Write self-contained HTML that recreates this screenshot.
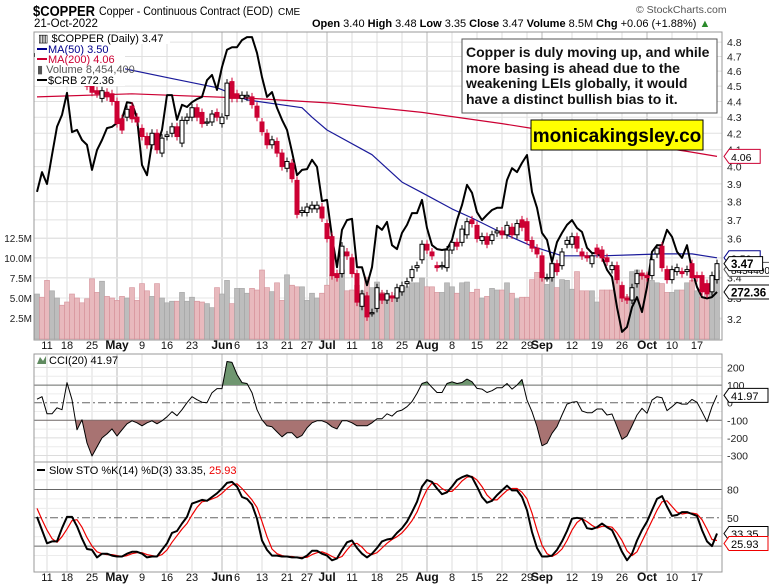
<!DOCTYPE html>
<html><head><meta charset="utf-8"><style>
body{margin:0;background:#fff;}
svg{display:block;font-family:"Liberation Sans",sans-serif;}
</style></head><body>
<svg id="chart" width="769" height="588" viewBox="0 0 769 588" xmlns="http://www.w3.org/2000/svg">
<rect x="0" y="0" width="769" height="588" fill="#fff"/>
<g id="grid"></g>
<g id="vol"></g>
<g id="lines"></g>
<g id="candles"></g>
<g id="ind"></g>
<g id="axes"></g>
<g>
<text x="33" y="16" font-size="14.5" font-weight="bold" textLength="62" lengthAdjust="spacingAndGlyphs">$COPPER</text>
<text x="99" y="15" font-size="11.5" textLength="174" lengthAdjust="spacingAndGlyphs">Copper - Continuous Contract (EOD)</text>
<text x="278" y="15" font-size="10">CME</text>
<text x="34" y="27" font-size="11.5">21-Oct-2022</text>
<text x="636" y="13" font-size="10.5" fill="#555">© StockCharts.com</text>
<text x="312" y="27" font-size="11"><tspan font-weight="bold">Open</tspan> 3.40  <tspan font-weight="bold">High</tspan> 3.48  <tspan font-weight="bold">Low</tspan> 3.35  <tspan font-weight="bold">Close</tspan> 3.47  <tspan font-weight="bold">Volume</tspan> 8.5M  <tspan font-weight="bold">Chg</tspan> +0.06 (+1.88%) <tspan fill="#2a8a2a">▲</tspan></text>
</g>
<g>
<rect x="462" y="39" width="255" height="74" fill="#fff" stroke="#555" stroke-width="1"/>
<text font-size="14" font-weight="bold" fill="#111">
<tspan x="466" y="57">Copper is duly moving up, and while</tspan>
<tspan x="466" y="73">more basing is ahead due to the</tspan>
<tspan x="466" y="88">weakening LEIs globally, it would</tspan>
<tspan x="466" y="104">have a distinct bullish bias to it.</tspan>
</text>
</g>
<g>
<rect x="531" y="120" width="172" height="30" fill="#ffff00" stroke="#000" stroke-width="1"/>
<text x="617" y="142" font-size="19" font-weight="bold" text-anchor="middle">monicakingsley.co</text>
</g>
<g>
<path d="M37,364 L40,357 L43,361 L46,356 L46,364 Z" fill="#5f8a5f"/>
<text x="49" y="364" font-size="11">CCI(20) 41.97</text>
</g>
<g>
<line x1="37" y1="470" x2="45" y2="470" stroke="#000" stroke-width="2"/>
<text x="49" y="474" font-size="11">Slow STO %K(14) %D(3) 33.35, <tspan fill="#e00">25.93</tspan></text>
</g>
</svg>
<script>
const opens=[4.70,4.72,4.68,4.66,4.70,4.74,4.70,4.66,4.62,4.58,4.55,4.50,4.47,4.42,4.46,4.45,4.40,4.29,4.30,4.37,4.30,4.23,4.18,4.13,4.20,4.08,4.18,4.20,4.24,4.14,4.28,4.30,4.36,4.33,4.27,4.27,4.33,4.26,4.31,4.53,4.45,4.42,4.43,4.43,4.37,4.27,4.20,4.13,4.15,4.08,3.99,4.02,3.92,3.74,3.74,3.76,3.76,3.77,3.68,3.61,3.42,3.42,3.53,3.50,3.42,3.26,3.31,3.23,3.25,3.32,3.29,3.31,3.30,3.33,3.37,3.40,3.45,3.49,3.57,3.53,3.46,3.46,3.45,3.54,3.58,3.58,3.62,3.70,3.67,3.59,3.61,3.59,3.63,3.64,3.62,3.66,3.62,3.70,3.69,3.59,3.55,3.51,3.40,3.40,3.47,3.46,3.57,3.57,3.61,3.53,3.51,3.47,3.55,3.54,3.50,3.44,3.46,3.36,3.30,3.29,3.37,3.42,3.41,3.41,3.52,3.56,3.44,3.39,3.43,3.43,3.43,3.47,3.41,3.41,3.37,3.33,3.39];
const closes=[4.72,4.68,4.66,4.70,4.74,4.72,4.66,4.62,4.60,4.55,4.50,4.46,4.45,4.47,4.43,4.40,4.26,4.22,4.35,4.29,4.27,4.18,4.13,4.20,4.10,4.17,4.19,4.24,4.18,4.28,4.30,4.36,4.30,4.26,4.27,4.32,4.30,4.30,4.52,4.42,4.42,4.44,4.44,4.38,4.30,4.21,4.13,4.16,4.08,4.00,4.03,3.93,3.73,3.75,3.77,3.78,3.78,3.71,3.60,3.41,3.40,3.56,3.51,3.42,3.28,3.32,3.21,3.23,3.35,3.29,3.32,3.30,3.35,3.36,3.38,3.44,3.46,3.57,3.54,3.51,3.45,3.46,3.54,3.58,3.56,3.65,3.69,3.68,3.60,3.61,3.57,3.62,3.64,3.62,3.67,3.62,3.68,3.66,3.59,3.55,3.52,3.40,3.40,3.47,3.43,3.53,3.59,3.61,3.55,3.51,3.50,3.51,3.52,3.50,3.48,3.46,3.39,3.30,3.29,3.35,3.42,3.41,3.40,3.49,3.55,3.45,3.39,3.44,3.45,3.42,3.44,3.40,3.40,3.33,3.32,3.41,3.47];
const volumes=[5.5,5.1,7.2,5.9,5.0,4.1,4.5,5.5,5.0,4.4,4.9,7.4,5.7,7.1,5.2,5.0,4.7,5.2,5.0,6.3,4.7,6.8,5.9,5.2,6.8,5.0,4.4,4.6,4.6,5.7,4.6,5.1,4.6,4.5,4.3,3.8,6.3,5.5,7.2,4.3,6.2,6.2,5.6,6.2,6.0,8.5,6.3,5.8,6.9,4.7,7.9,6.6,6.4,6.4,4.7,5.6,5.0,5.6,6.6,7.9,7.7,8.5,5.9,6.0,6.6,5.9,7.6,6.3,7.0,5.7,5.6,5.2,5.6,5.7,6.4,6.9,6.9,7.5,6.4,6.4,5.7,5.7,6.9,6.4,5.6,6.9,7.0,5.7,6.1,5.0,5.2,6.2,6.0,6.0,6.9,5.6,4.9,5.1,5.1,7.3,8.2,8.2,6.7,9.4,6.3,7.3,7.2,6.1,8.3,5.9,5.9,5.9,4.5,6.0,6.0,6.0,8.5,6.6,5.2,8.3,8.5,8.2,8.0,7.2,6.9,6.8,5.7,5.7,6.0,6.0,6.9,7.2,5.9,5.1,5.5,6.9,8.45];
const crb=[295.1,299.6,296.9,303.5,309.9,312.6,317.6,308.7,309.2,306.9,305.8,300.1,304.6,306.9,309.6,309.9,310.8,311.7,315.5,315.3,311.9,301.2,298.9,306.2,305.8,309.2,317.1,317.1,311.5,314.9,314.4,315.5,316.2,316.7,320.5,321.7,318.3,323.5,327.4,328.0,328.0,329.6,330.3,330.3,326.7,321.2,316.7,317.8,314.2,311.5,309.2,304.2,298.9,300.1,300.3,302.4,300.8,293.0,293.3,284.9,278.0,286.5,288.7,289.0,278.0,278.0,273.9,278.0,287.4,286.5,288.3,283.0,282.1,285.8,287.6,290.3,290.3,293.3,286.9,283.0,282.1,281.9,282.1,284.2,288.7,292.1,296.7,294.9,290.5,288.7,289.9,291.0,291.5,291.5,297.8,300.5,299.6,301.7,303.5,295.1,291.5,285.8,284.2,279.2,283.7,285.8,287.6,288.7,286.9,286.0,282.4,281.2,281.2,280.3,277.4,275.8,268.9,263.3,264.4,268.9,271.2,267.8,273.5,281.5,283.0,283.0,286.5,284.9,281.5,280.1,283.0,277.4,273.5,271.2,270.9,271.2,272.36];
const ma50Day=[17,27,36,42,53,55,58,67,73,77,83,87,93,99,105,113,125,131,136];
const ma50Val=[4.62,4.55,4.49,4.41,4.36,4.30,4.22,4.07,3.91,3.85,3.76,3.71,3.63,3.56,3.51,3.51,3.52,3.52,3.50];
const ma200Day=[0,19,43,59,77,93,99,130,136];
const ma200Val=[4.43,4.45,4.42,4.39,4.33,4.26,4.23,4.09,4.06];
const cci=[20,34,-63,-63,-29,-40,114,17,-154,-97,-229,-303,-251,-200,-177,-149,-189,-154,-120,-103,-114,-131,-114,-103,-120,-103,-80,-51,-74,-40,0,34,17,3,0,57,80,80,234,229,160,114,109,57,-40,-97,-131,-137,-166,-194,-171,-171,-200,-186,-143,-114,-103,-103,-114,-137,-149,-103,-103,-114,-131,-131,-131,-114,-91,-91,-63,-76,-50,-42,-23,6,53,109,119,87,58,58,109,119,109,115,134,119,81,77,58,68,85,85,109,77,100,132,15,-51,-136,-245,-230,-174,-136,-70,-8,2,6,-47,-57,-57,-36,-36,-70,-64,-136,-208,-189,-132,-70,-32,-60,15,34,28,-45,-23,2,-8,-8,19,2,-51,-108,-23,41.97];
const stoK=[51,37,23,25,25,39,51,51,41,28,17,16,8,12,12,10,9,9,12,14,14,12,8,9,9,16,23,34,36,44,51,65,67,69,68,72,76,81,87,88,83,72,70,64,49,26,16,10,10,9,9,8,8,7,10,15,15,12,10,5,7,16,24,26,18,12,8,12,18,25,27,28,34,39,46,56,67,83,90,88,81,75,77,83,90,93,95,93,83,72,66,68,74,79,84,79,79,72,58,35,18,9,9,10,16,25,36,49,50,49,39,38,40,44,40,37,26,14,5,12,26,37,46,58,70,73,62,52,53,56,56,54,52,37,25,20,33.35];
const stoD=[60,48,37,28,24,30,38,47,48,40,29,20,14,12,11,11,10,9,10,12,13,13,11,10,9,11,16,24,31,38,44,53,61,67,68,70,72,76,81,85,86,81,75,69,61,46,30,17,12,10,9,9,8,8,8,11,13,14,12,9,7,9,16,22,23,19,13,11,13,18,23,27,30,34,40,47,56,69,80,87,86,81,78,78,83,89,93,94,90,83,74,69,69,74,79,81,81,77,70,55,37,21,12,9,12,17,26,37,45,49,46,42,39,41,41,40,34,26,15,10,14,25,36,47,58,67,68,62,56,54,55,55,54,48,38,27,25.93];
const dateLabels=["11","18","25","May","9","16","23","Jun","6","13","21","27","Jul","11","18","25","Aug","8","15","22","29","Sep","12","19","26","Oct","10","17"];
const dateDays=[2,6,11,16,21,26,31,37,40,45,50,54,58,63,68,73,78,83,88,93,98,101,107,112,117,122,127,132];
const monthLabels=["May","Jun","Jul","Aug","Sep","Oct"];
const priceTicks=[3.2,3.3,3.4,3.5,3.6,3.7,3.8,3.9,4.0,4.1,4.2,4.3,4.4,4.5,4.6,4.7,4.8];
const volTicks=[2.5,5.0,7.5,10.0,12.5];
const cciTicks=[200,100,0,-100,-200,-300];
const stoTicks=[80,50,20];

const NS="http://www.w3.org/2000/svg";
const L=34,R=722;
const xAt=i=>37+5*i;
const py=p=>319-683*Math.log(p/3.2);
const vy=v=>338-v*8;
const cy=v=>292-(v-272.36)*4.4;
const ccy=v=>402.7-v*0.176;
const sy=v=>565-v*0.944;
function mk(tag,attrs,parent){const e=document.createElementNS(NS,tag);for(const k in attrs)e.setAttribute(k,attrs[k]);parent.appendChild(e);return e;}
const grid=document.getElementById('grid'),axes=document.getElementById('axes');
const panels=[[32,340],[354,462],[462,572]];
dateDays.forEach((d,k)=>{const x=xAt(d);const isM=monthLabels.includes(dateLabels[k]);
panels.forEach(p=>{const ln=mk('line',{x1:x,x2:x,y1:p[0],y2:p[1],stroke:isM?'#b8b8b8':'#dedede','stroke-width':1},grid);

});
[349,581].forEach(yy=>{const t=mk('text',{x:x,y:yy,'font-size':isM?12:11,'font-weight':isM?'bold':'normal','text-anchor':'middle',fill:'#111'},axes);t.textContent=dateLabels[k];

});});
priceTicks.forEach(p=>{const y=py(p);const ln=mk('line',{x1:L,x2:R,y1:y,y2:y,stroke:'#e0e0e0'},grid);


const t=mk('text',{x:727,y:y+4,'font-size':10.5,fill:'#222'},axes);t.textContent=p.toFixed(1);

});
volTicks.forEach(v=>{const y=vy(v);const ln=mk('line',{x1:L,x2:R,y1:y,y2:y,stroke:'#e6e6e6'},grid);


const t=mk('text',{x:32,y:y+4,'font-size':10,'text-anchor':'end',fill:'#222'},axes);t.textContent=v.toFixed(1)+'M';

});
[-250,-150,-50,50,150].forEach(v=>mk('line',{x1:L,x2:R,y1:ccy(v),y2:ccy(v),stroke:'#ececec'},grid));
cciTicks.forEach(v=>{const y=ccy(v);const major=Math.abs(v)===100;const ln=mk('line',{x1:L,x2:R,y1:y,y2:y,stroke:major||v===0?'#666':'#dcdcdc','stroke-dasharray':v===0?'8,3,2,3':'none'},grid);


const t=mk('text',{x:727,y:y+4,'font-size':10.5,fill:'#222'},axes);t.textContent=v;

});
[10,30,40,60,70,90].forEach(v=>mk('line',{x1:L,x2:R,y1:sy(v),y2:sy(v),stroke:'#ececec'},grid));
stoTicks.forEach(v=>{const y=sy(v);const ln=mk('line',{x1:L,x2:R,y1:y,y2:y,stroke:'#666','stroke-dasharray':v===50?'8,3,2,3':'none'},grid);


const t=mk('text',{x:727,y:y+4,'font-size':10.5,fill:'#222'},axes);t.textContent=v;

});
panels.forEach(p=>{const r=mk('rect',{x:L,y:p[0],width:R-L,height:p[1]-p[0],fill:'none',stroke:'#999'},axes);

});
const vol=document.getElementById('vol');
volumes.forEach((v,i)=>{const down=i>0&&closes[i]<closes[i-1];const y=vy(v);
const b=mk('rect',{x:xAt(i)-2.5,y:y,width:5,height:339-y,fill:down?'#e8b9bd':'#bdbdbd',stroke:down?'#d49098':'#a3a3a3','stroke-width':0.6},vol);

});
const lines=document.getElementById('lines');
function poly(pts,color,w,name,parent){const p=mk('polyline',{points:pts.map(q=>q[0].toFixed(1)+','+q[1].toFixed(1)).join(' '),fill:'none',stroke:color,'stroke-width':w,'stroke-linejoin':'round'},parent||lines);

return p;}
poly(ma200Day.map((d,k)=>[xAt(d),py(ma200Val[k])]),'#cc0033',1.2,'ma200-line');
poly(ma50Day.map((d,k)=>[xAt(d),py(ma50Val[k])]),'#1a1a9a',1.2,'ma50-line');
poly(crb.map((v,i)=>[xAt(i),cy(v)]),'#000',2,'crb-line');
const cg=document.getElementById('candles');
opens.forEach((o,i)=>{const c=closes[i];const x=xAt(i);const top=py(Math.max(o,c)),bot=py(Math.min(o,c));const up=c>=o;
const w=mk('line',{x1:x,x2:x,y1:top-4,y2:bot+4,stroke:up?'#000':'#cc0033','stroke-width':1},cg);


const b=mk('rect',{x:x-2,y:top,width:4,height:Math.max(1.2,bot-top),fill:up?'#fff':'#cc0033',stroke:up?'#000':'#cc0033','stroke-width':1},cg);

});
const ind=document.getElementById('ind');
const cciPts=cci.map((v,i)=>[xAt(i),ccy(v)]);
const defs=mk('defs',{},ind);
const c1=mk('clipPath',{id:'cAbove'},defs);mk('rect',{x:L,y:354,width:R-L,height:ccy(100)-354},c1);
const c2=mk('clipPath',{id:'cBelow'},defs);mk('rect',{x:L,y:ccy(-100),width:R-L,height:462-ccy(-100)},c2);
function area(base,clip,color,name){const pts=[[xAt(0),ccy(base)]].concat(cciPts).concat([[xAt(cci.length-1),ccy(base)]]);
const p=mk('polygon',{points:pts.map(q=>q[0].toFixed(1)+','+q[1].toFixed(1)).join(' '),fill:color,'clip-path':'url(#'+clip+')'},ind);

}
area(100,'cAbove','#6f9670','cci-overbought-fill');
area(-100,'cBelow','#a87372','cci-oversold-fill');
poly(cciPts,'#000',1,'cci-line',ind);
poly(stoD.map((v,i)=>[xAt(i),sy(v)]),'#ee0000',1.2,'sto-d-line',ind);
poly(stoK.map((v,i)=>[xAt(i),sy(v)]),'#000',2,'sto-k-line',ind);
const svg=document.getElementById('chart');
const lg=mk('g',{'font-size':11},svg);


mk('rect',{x:35,y:33,width:90,height:53,fill:'#fff'},lg);
mk('rect',{x:125,y:33,width:45,height:11,fill:'#fff'},lg);
function lt(x,y,txt,fill,name){const t=mk('text',{x:x,y:y,fill:fill},lg);t.textContent=txt;

}
lt(38,42,'▥ $COPPER (Daily) 3.47','#000','legend-copper');
mk('line',{x1:37,y1:49,x2:47,y2:49,stroke:'#00008b','stroke-width':2},lg);
lt(48,53,'MA(50) 3.50','#00008b','legend-ma50');
mk('line',{x1:37,y1:59,x2:47,y2:59,stroke:'#cc0033','stroke-width':2},lg);
lt(48,63,'MA(200) 4.06','#cc0033','legend-ma200');
lt(37,73,'▮ Volume 8,454,400','#555','legend-volume');
mk('line',{x1:37,y1:80,x2:47,y2:80,stroke:'#000','stroke-width':2},lg);
lt(48,84,'$CRB 272.36','#000','legend-crb');
function tag(y,txt,color,name,bold,fs){const g=mk('g',{},axes);


const w=txt.length*(fs*0.6)+6;
mk('path',{d:`M${R+2},${y} L${R+7},${y-7} L${R+7+w},${y-7} L${R+7+w},${y+7} L${R+7},${y+7} Z`,fill:'#fff',stroke:color,'stroke-width':1},g);
const t=mk('text',{x:R+9,y:y+4.5,'font-size':fs,'font-weight':bold?'bold':'normal',fill:'#000'},g);t.textContent=txt;}
const last=closes.length-1;
tag(py(ma200Val[ma200Val.length-1]),'4.06','#cc0033','ma200-value-tag',false,10.5);
tag(py(ma50Val[ma50Val.length-1]),'3.50','#00008b','ma50-value-tag',false,10.5);
tag(vy(volumes[last])-1,'8454400','#555','volume-value-tag',false,10);
tag(py(closes[last]),closes[last].toFixed(2),'#000','price-value-tag',true,11.5);
tag(cy(crb[last]),crb[last].toFixed(2),'#000','crb-value-tag',true,11.5);
tag(ccy(cci[last]),cci[last].toFixed(2),'#000','cci-value-tag',false,11);
tag(sy(stoK[last]),stoK[last].toFixed(2),'#000','sto-k-value-tag',false,11);
tag(sy(stoD[last])+3,stoD[last].toFixed(2),'#e00','sto-d-value-tag',false,11);
</script>
</body></html>
